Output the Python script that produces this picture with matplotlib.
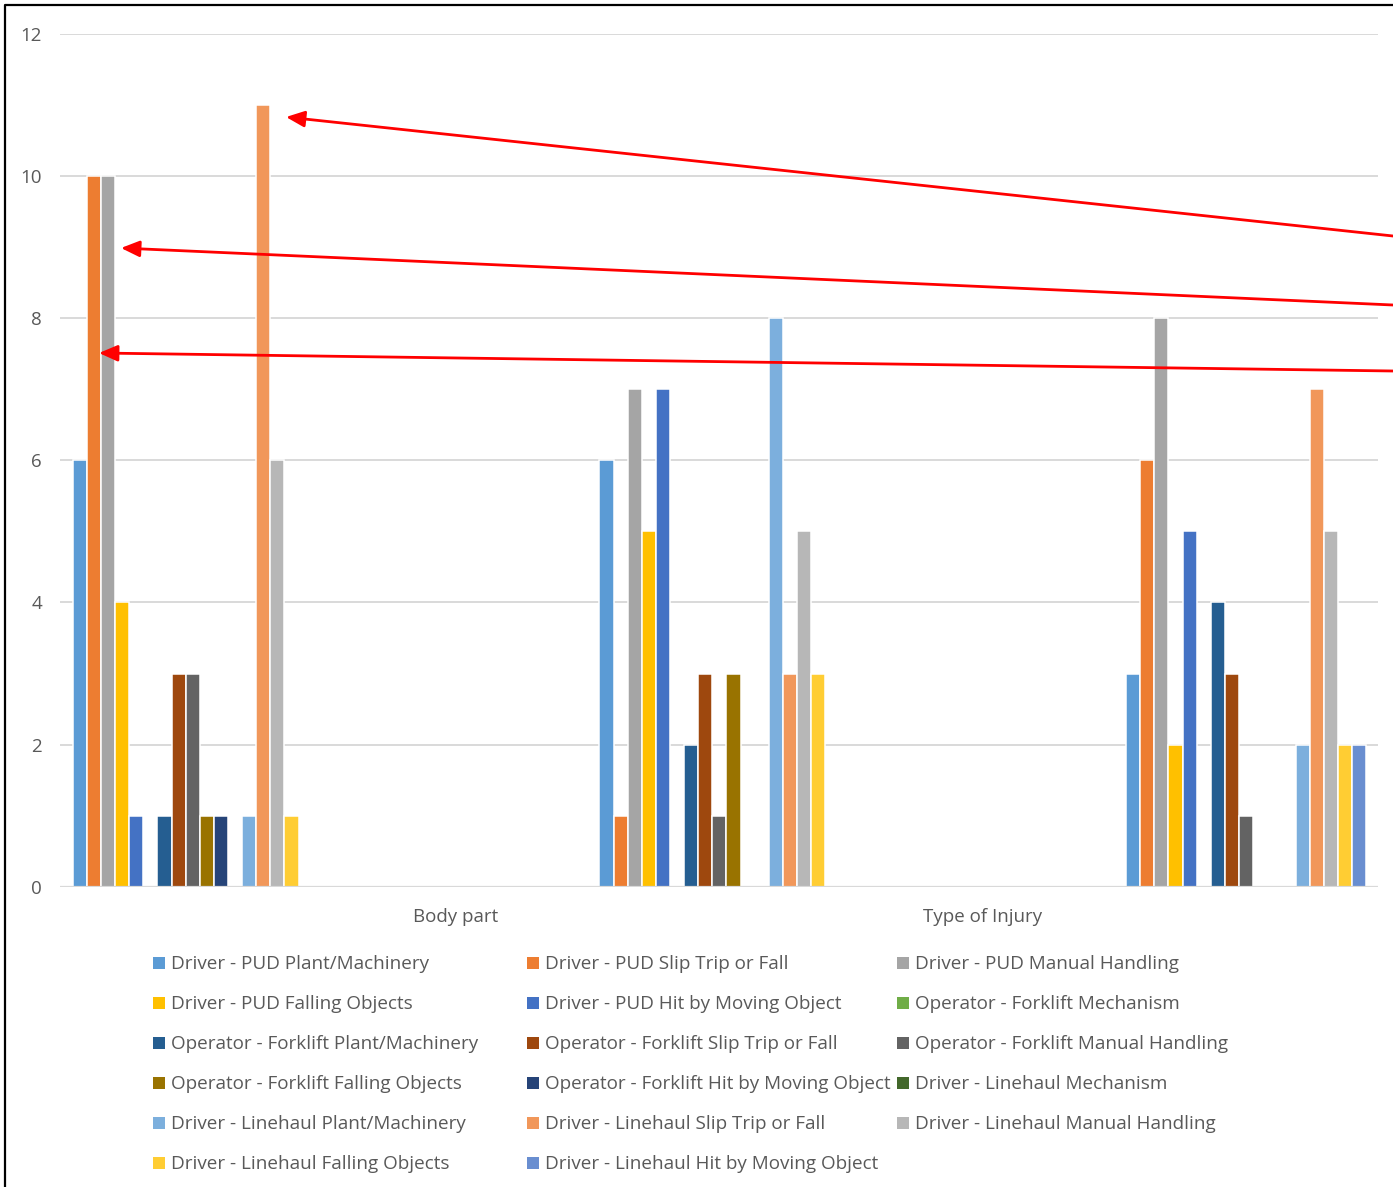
import matplotlib
matplotlib.use("Agg")
import matplotlib.pyplot as plt
from matplotlib.patches import Rectangle
from matplotlib.lines import Line2D
import numpy as np

series = [
    "Driver - PUD Plant/Machinery", "Driver - PUD Slip Trip or Fall", "Driver - PUD Manual Handling",
    "Driver - PUD Falling Objects", "Driver - PUD Hit by Moving Object", "Operator - Forklift Mechanism",
    "Operator - Forklift Plant/Machinery", "Operator - Forklift Slip Trip or Fall", "Operator - Forklift Manual Handling",
    "Operator - Forklift Falling Objects", "Operator - Forklift Hit by Moving Object", "Driver - Linehaul Mechanism",
    "Driver - Linehaul Plant/Machinery", "Driver - Linehaul Slip Trip or Fall", "Driver - Linehaul Manual Handling",
    "Driver - Linehaul Falling Objects", "Driver - Linehaul Hit by Moving Object",
]
colors = [
    "#5B9BD5", "#ED7D31", "#A5A5A5", "#FFC000", "#4472C4", "#70AD47",
    "#255E91", "#9E480E", "#636363", "#997300", "#264478", "#43682B",
    "#7CAFDD", "#F1975A", "#B7B7B7", "#FFCD33", "#698ED0",
]
group1_values = [6, 10, 10, 4, 1, 0, 1, 3, 3, 1, 1, 0, 1, 11, 6, 1, 0]
group2_values = [6, 1, 7, 5, 7, 0, 2, 3, 1, 3, 0, 0, 8, 3, 5, 3, 0]
group3_values = [3, 6, 8, 2, 5, 0, 4, 3, 1, 0, 0, 0, 2, 7, 5, 2, 2]
category_labels = ["Body part", "Type of Injury"]
yticks = [0, 2, 4, 6, 8, 10, 12]

plt.rcParams['font.family'] = ['Open Sans', 'DejaVu Sans']
TXT = "#595959"
GRID = "#D9D9D9"

W, H = 1393, 1187
fig = plt.figure(figsize=(W / 100, H / 100), dpi=100)
x0, x1, ytop, ybot = 60, 1378, 34, 886.7
ax = fig.add_axes([x0 / W, 1 - ybot / H, (x1 - x0) / W, (ybot - ytop) / H])

n = len(series)
spacing_px = 526.7
pitch = 14.12 / spacing_px
groups = [group1_values, group2_values, group3_values]
gx = np.arange(len(groups))
for i in range(n):
    vals = [g[i] for g in groups]
    x = gx + (i - (n - 1) / 2) * pitch
    ax.bar(x, vals, width=pitch, color=colors[i], edgecolor="white", linewidth=1.1, zorder=3)

left = (x0 - 192.7) / spacing_px
ax.set_xlim(left, left + (x1 - x0) / spacing_px)
ax.set_ylim(0, 12)
for s in ax.spines.values():
    s.set_visible(False)
ax.set_yticks(yticks)
ax.set_yticklabels([str(v) for v in yticks])
ax.yaxis.grid(True, color=GRID, lw=1.4)
ax.set_axisbelow(True)
ax.axhline(0, color=GRID, lw=1.6, zorder=4)
ax.set_xticks([0.5, 1.5])
ax.set_xticklabels(category_labels)
ax.tick_params(axis="y", length=0, pad=13, labelsize=13.5, labelcolor=TXT)
ax.tick_params(axis="x", length=0, pad=15, labelsize=13.5, labelcolor=TXT)

# legend (3 columns, fixed column positions)
col_x = [153, 527, 897]
for i, name in enumerate(series):
    r, c = divmod(i, 3)
    yc = 963 + 40 * r
    fig.patches.append(Rectangle(((col_x[c]) / W, 1 - (yc + 6) / H), 12 / W, 12 / H,
                                 transform=fig.transFigure, facecolor=colors[i], edgecolor="none"))
    fig.text((col_x[c] + 18) / W, 1 - (yc + 1) / H, name, va="center", ha="left",
             fontsize=13.6, color=TXT)

# red arrows
arrows = [((1393, 236), (286, 117)), ((1393, 305), (121, 248)), ((1393, 371), (99, 353))]
for (tx, ty), (hx, hy) in arrows:
    ax.annotate("", xy=(hx, H - hy), xycoords="figure pixels",
                xytext=(tx, H - ty), textcoords="figure pixels",
                arrowprops=dict(arrowstyle="-|>,head_length=0.8,head_width=0.35", color="#FF0000",
                                lw=2, mutation_scale=14, shrinkA=0, shrinkB=0),
                annotation_clip=False)

# frame border (left and top)
fig.add_artist(Line2D([5 / W, 5 / W, 1.0], [0.0, 1 - 5 / H, 1 - 5 / H],
                      transform=fig.transFigure, color="black", lw=1.6))

fig.savefig("out.png", dpi=100)
